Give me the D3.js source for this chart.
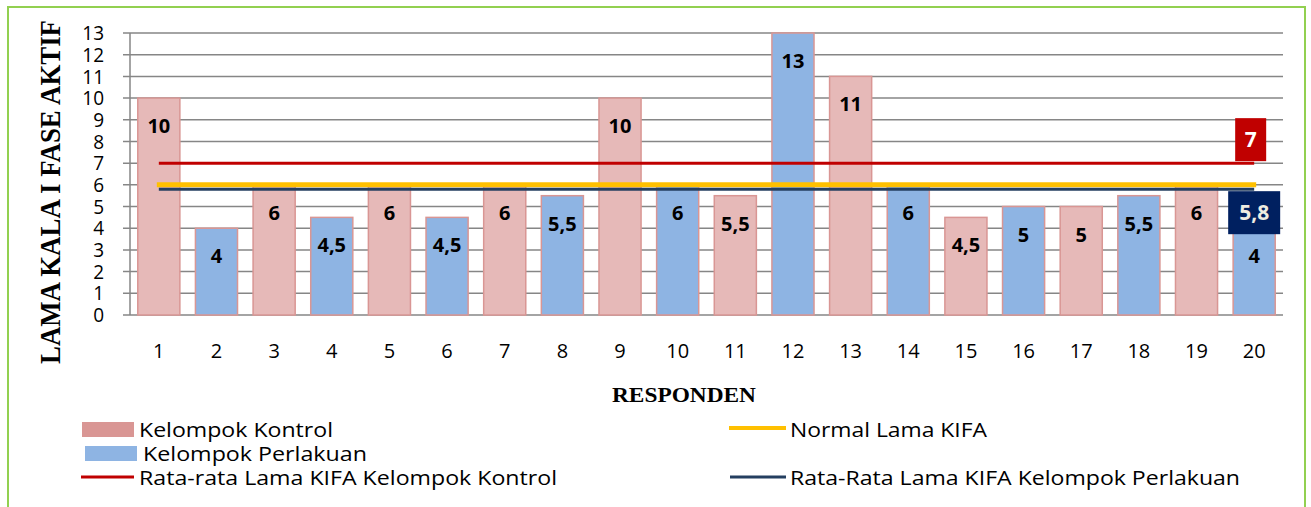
<!DOCTYPE html>
<html><head><meta charset="utf-8">
<script src="https://cdn.jsdelivr.net/npm/d3@7"></script>
<style>html,body{margin:0;padding:0;background:#fff}svg{display:block}</style>
</head><body>
<svg id="c" width="1311" height="507"></svg>
<script>
const respondents = ["1","2","3","4","5","6","7","8","9","10","11","12","13","14","15","16","17","18","19","20"];
const values = [10,4,6,4.5,6,4.5,6,5.5,10,6,5.5,13,11,6,4.5,5,5,5.5,6,4];
const groups = ["Kontrol","Perlakuan","Kontrol","Perlakuan","Kontrol","Perlakuan","Kontrol","Perlakuan","Kontrol","Perlakuan","Kontrol","Perlakuan","Kontrol","Perlakuan","Kontrol","Perlakuan","Kontrol","Perlakuan","Kontrol","Perlakuan"];
const yTicks = [0,1,2,3,4,5,6,7,8,9,10,11,12,13];
const meanKontrol = 7;
const normalKIFA = 6;
const meanPerlakuan = 5.8;
const legendLabels = ["Kelompok Kontrol","Kelompok Perlakuan","Rata-rata Lama KIFA Kelompok Kontrol","Normal Lama KIFA","Rata-Rata Lama KIFA Kelompok Perlakuan"];
const yTitle = "LAMA KALA I FASE AKTIF";
const xTitle = "RESPONDEN";

const svg = d3.select("#c");
const F = "'Open Sans', sans-serif";
const SERIF = "'Liberation Serif', 'Times New Roman', serif";

// border
svg.append("rect").attr("x",8).attr("y",7).attr("width",1297).attr("height",505)
  .attr("fill","none").attr("stroke","#92d050").attr("stroke-width",2);

const x = d3.scaleBand().domain(respondents).range([130,1283]).paddingInner(0.27).paddingOuter(0.135);
const y = d3.scaleLinear().domain([0,13]).range([315,33]);

// gridlines
svg.append("g").selectAll("line").data(yTicks).join("line")
  .attr("x1",123).attr("x2",1283).attr("y1",d=>y(d)).attr("y2",d=>y(d))
  .attr("stroke","#868686").attr("stroke-width",1.5);
// y axis line
svg.append("line").attr("x1",130).attr("x2",130).attr("y1",y(13)).attr("y2",y(0))
  .attr("stroke","#868686").attr("stroke-width",1.5);

// y tick labels
const yAxis = d3.axisLeft(y).tickValues(yTicks).tickSize(0).tickPadding(0);
const ya = svg.append("g").attr("transform","translate(104,0)").call(yAxis);
ya.select(".domain").remove();
ya.selectAll("text").attr("font-family",F).attr("font-size",19).attr("fill","#000").attr("dy","0.36em")
  .attr("transform","scale(1,1.05)").attr("y",0);
ya.selectAll(".tick").each(function(d){
  d3.select(this).attr("transform",`translate(0,${y(d)})`);
});

// x tick labels
const xAxis = d3.axisBottom(x).tickSize(0).tickPadding(0);
const xa = svg.append("g").attr("transform","translate(0,344)").call(xAxis);
xa.select(".domain").remove();
xa.selectAll("text").attr("font-family",F).attr("font-size",20).attr("fill","#000").attr("dy","0.72em");

const colors = {Kontrol:"#e6b9b8", Perlakuan:"#8eb4e3"};
// bars
svg.append("g").selectAll("rect").data(values).join("rect")
  .attr("x",(d,i)=>x(respondents[i])).attr("width",x.bandwidth())
  .attr("y",d=>y(d)).attr("height",d=>y(0)-y(d))
  .attr("fill",(d,i)=>colors[groups[i]]).attr("stroke","#d99694").attr("stroke-width",1.5);

// value labels
svg.append("g").selectAll("text").data(values).join("text")
  .attr("x",(d,i)=>x(respondents[i])+x.bandwidth()/2).attr("y",d=>y(d)+35)
  .attr("text-anchor","middle").attr("font-family",F).attr("font-weight","bold").attr("font-size",20)
  .attr("fill","#000").text(d=>String(d).replace(".",","));

const cx0 = x(respondents[0])+x.bandwidth()/2;
const cx1 = x(respondents[respondents.length-1])+x.bandwidth()/2;
// reference lines
svg.append("line").attr("x1",cx0).attr("x2",cx1).attr("y1",y(meanKontrol)).attr("y2",y(meanKontrol))
  .attr("stroke","#c00000").attr("stroke-width",3);
svg.append("line").attr("x1",cx0-2).attr("x2",cx1+2).attr("y1",y(normalKIFA)).attr("y2",y(normalKIFA))
  .attr("stroke","#ffc000").attr("stroke-width",5);
svg.append("line").attr("x1",cx0).attr("x2",cx1).attr("y1",y(meanPerlakuan)).attr("y2",y(meanPerlakuan))
  .attr("stroke","#243f60").attr("stroke-width",3);

// value boxes
svg.append("rect").attr("x",cx1-19).attr("y",y(meanKontrol)-45).attr("width",31).attr("height",43).attr("fill","#c00000");
svg.append("text").attr("x",cx1-3.5).attr("y",y(meanKontrol)-16).attr("text-anchor","middle")
  .attr("font-family",F).attr("font-weight","bold").attr("font-size",21).attr("fill","#fff").text(String(meanKontrol));
svg.append("rect").attr("x",cx1-26).attr("y",y(meanPerlakuan)+2).attr("width",52).attr("height",43).attr("fill","#002060");
svg.append("text").attr("x",cx1).attr("y",y(meanPerlakuan)+31).attr("text-anchor","middle")
  .attr("font-family",F).attr("font-weight","bold").attr("font-size",21).attr("fill","#eeece1").text(String(meanPerlakuan).replace(".",","));

// axis titles
svg.append("text").attr("transform","translate(60,192) rotate(-90)").attr("text-anchor","middle")
  .attr("font-family",SERIF).attr("font-weight","bold").attr("font-size",30)
  .attr("textLength",344).attr("lengthAdjust","spacingAndGlyphs").text(yTitle);
svg.append("text").attr("x",684).attr("y",402).attr("text-anchor","middle")
  .attr("font-family",SERIF).attr("font-weight","bold").attr("font-size",21)
  .attr("textLength",144).attr("lengthAdjust","spacingAndGlyphs").text(xTitle);

// legend
const lg = svg.append("g").attr("font-family",F).attr("font-size",20).attr("fill","#000");
lg.append("rect").attr("x",82).attr("y",422).attr("width",52).attr("height",15).attr("fill","#d99694");
lg.append("rect").attr("x",85).attr("y",446).attr("width",52).attr("height",15).attr("fill","#8eb4e3");
lg.append("line").attr("x1",81).attr("x2",134).attr("y1",477).attr("y2",477).attr("stroke","#c00000").attr("stroke-width",3);
lg.append("line").attr("x1",729).attr("x2",786).attr("y1",428).attr("y2",428).attr("stroke","#ffc000").attr("stroke-width",4);
lg.append("line").attr("x1",730).attr("x2",786).attr("y1",477).attr("y2",477).attr("stroke","#243f60").attr("stroke-width",3);
const lt = [[139,437,194],[143,461,224],[139,485,418],[790,437,197],[790,485,450]];
lt.forEach((p,i)=>{
  lg.append("text").attr("x",p[0]).attr("y",p[1]).attr("textLength",p[2]).attr("lengthAdjust","spacingAndGlyphs").text(legendLabels[i]);
});
</script>
</body></html>
